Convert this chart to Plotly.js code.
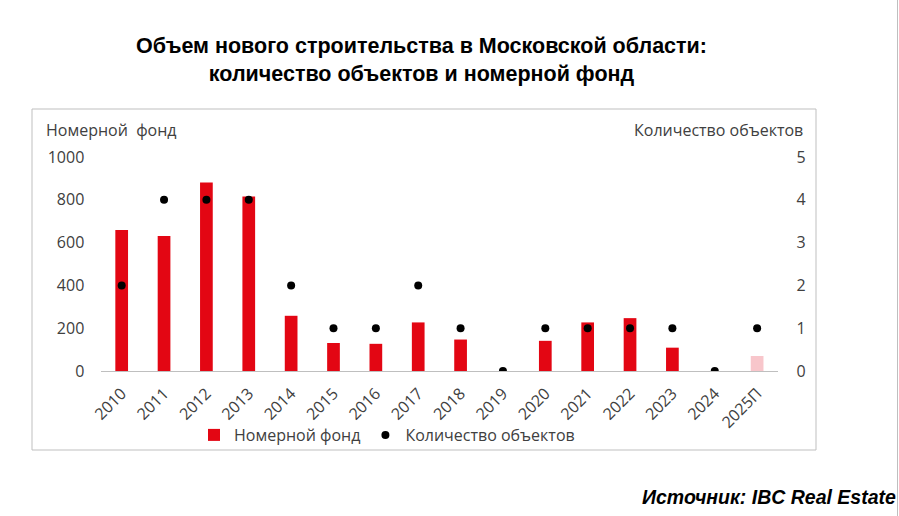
<!DOCTYPE html>
<html><head><meta charset="utf-8">
<script src="https://cdn.plot.ly/plotly-3.0.1.min.js"></script>
<style>html,body{margin:0;padding:0;background:#fff;}#chart{width:899px;height:516px;}</style>
</head><body><div id="chart"></div>
<script>
const years = ["2010","2011","2012","2013","2014","2015","2016","2017","2018","2019","2020","2021","2022","2023","2024","2025П"];
const roomStock = [659, 631, 881, 815, 258, 131, 127, 227, 147, 0, 141, 227, 247, 109, 0, 70];
const objectCount = [2, 4, 4, 4, 2, 1, 1, 2, 1, 0, 1, 1, 1, 1, 0, 1];
const barColors = years.map(y => y.endsWith("П") ? "#f8c6cb" : "#e30613");
const leftTicks = [0, 200, 400, 600, 800, 1000];
const rightTicks = [0, 1, 2, 3, 4, 5];

const W = 899, H = 516;
const px = x => x / W, py = y => (H - y) / H;
const tickFont = {family: "Open Sans, sans-serif", size: 16, color: "#404040"};

const traces = [
  {type: "bar", name: "Номерной фонд", x: years, y: roomStock,
   marker: {color: barColors}, width: 0.3, yaxis: "y", hoverinfo: "x+y"},
  {type: "scatter", mode: "markers", name: "Количество объектов", x: years, y: objectCount,
   marker: {color: "#000", size: 8}, yaxis: "y2"}
];

const layout = {
  width: W, height: H,
  margin: {l: 0, r: 0, t: 0, b: 0, autoexpand: false},
  paper_bgcolor: "#fff", plot_bgcolor: "rgba(0,0,0,0)",
  showlegend: true,
  legend: {orientation: "h", x: px(194), xanchor: "left", y: py(435), yanchor: "middle",
           bgcolor: "rgba(0,0,0,0)",
           font: {family: "Open Sans, sans-serif", size: 16, color: "#404040"}, traceorder: "normal",
           itemwidth: 30},
  title: {text: "<b>Объем нового строительства в Московской области:<br>количество объектов и номерной фонд</b>",
          x: px(421.5), xanchor: "center", y: py(53), yanchor: "middle",
          font: {family: "Liberation Sans, Arial, sans-serif", size: 21.5, color: "#000"}},
  xaxis: {domain: [px(100.5), px(778.3)], type: "category", range: [-0.5, years.length - 0.5],
          tickangle: -45, automargin: false,
          tickfont: tickFont, showgrid: false, zeroline: false, showline: true,
          linecolor: "#bfbfbf", linewidth: 1, ticks: "outside", ticklen: 6, tickcolor: "rgba(0,0,0,0)",
          anchor: "y"},
  yaxis: {domain: [py(371), py(157)], range: [0, 1000], tickvals: leftTicks, automargin: false,
          tickfont: tickFont, showgrid: false, zeroline: false, showline: false,
          ticks: "outside", ticklen: 12, tickcolor: "rgba(0,0,0,0)"},
  yaxis2: {domain: [py(371), py(157)], range: [0, 5], tickvals: rightTicks, overlaying: "y", side: "right",
           automargin: false,
           tickfont: tickFont, showgrid: false, zeroline: false, showline: false,
           ticks: "outside", ticklen: 14, tickcolor: "rgba(0,0,0,0)"},
  annotations: [
    {text: "Номерной  фонд", xref: "paper", yref: "paper", x: px(44), y: py(130), xanchor: "left", yanchor: "middle",
     showarrow: false, font: {family: "Open Sans, sans-serif", size: 16, color: "#404040"}},
    {text: "Количество объектов", xref: "paper", yref: "paper", x: px(805), y: py(130), xanchor: "right", yanchor: "middle",
     showarrow: false, font: {family: "Open Sans, sans-serif", size: 16, color: "#404040"}},
    {text: "<b><i>Источник: IBC Real Estate</i></b>", xref: "paper", yref: "paper", x: px(898), y: py(497),
     xanchor: "right", yanchor: "middle", showarrow: false,
     font: {family: "Liberation Sans, Arial, sans-serif", size: 19.5, color: "#000"}}
  ],
  shapes: [
    {type: "rect", xref: "paper", yref: "paper", x0: px(32), x1: px(816), y0: py(450), y1: py(109),
     line: {color: "#bfbfbf", width: 1}, fillcolor: "rgba(0,0,0,0)", layer: "below"},
    {type: "line", xref: "paper", yref: "paper", x0: px(897.5), x1: px(897.5), y0: 0, y1: 1,
     line: {color: "#bfbfbf", width: 1}}
  ]
};

Plotly.newPlot("chart", traces, layout, {displayModeBar: false, staticPlot: true});
</script>
</body></html>
